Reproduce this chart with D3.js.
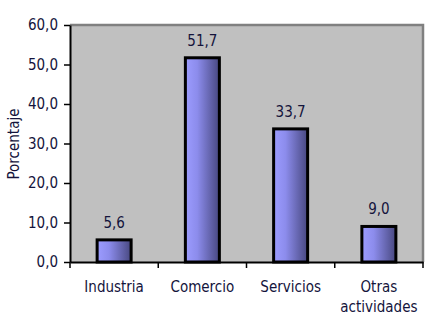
<!DOCTYPE html>
<html>
<head>
<meta charset="utf-8">
<script src="https://cdn.jsdelivr.net/npm/d3@7"></script>
<style>
  body { margin: 0; background: #fff; }
  svg text { font-family: "DejaVu Sans Condensed", "DejaVu Sans", Verdana, sans-serif; font-stretch: condensed; fill: #14143c; }
</style>
</head>
<body>
<svg id="chart" width="441" height="333"></svg>
<script>
// Sector shares (%)
const categories = ["Industria", "Comercio", "Servicios", "Otras actividades"];
const values = [5.6, 51.7, 33.7, 9.0];
const yTicks = [0, 10, 20, 30, 40, 50, 60];

const fmt = v => d3.format(".1f")(v).replace(".", ",");
const FONT = "'DejaVu Sans Condensed', 'DejaVu Sans', Verdana, sans-serif";
const FS = 15;

const svg = d3.select("#chart");
const m = { left: 70, top: 25, right: 423, bottom: 262 };

const x = d3.scaleBand().domain(categories).range([m.left, m.right]).paddingInner(0).paddingOuter(0);
const y = d3.scaleLinear().domain([0, 60]).range([m.bottom, m.top]);

// bar gradient: light violet-blue to dark
const defs = svg.append("defs");
const grad = defs.append("linearGradient").attr("id", "barGrad").attr("x1", "0%").attr("x2", "100%");
grad.append("stop").attr("offset", "0%").attr("stop-color", "#9c9cff");
grad.append("stop").attr("offset", "35%").attr("stop-color", "#8c8cec");
grad.append("stop").attr("offset", "100%").attr("stop-color", "#484880");

// plot area
svg.append("rect")
  .attr("x", m.left).attr("y", m.top)
  .attr("width", m.right - m.left).attr("height", m.bottom - m.top)
  .attr("fill", "#c0c0c0");
svg.append("path")
  .attr("d", `M${m.left},${m.top} H${m.right} V${m.bottom}`)
  .attr("fill", "none").attr("stroke", "#808080").attr("stroke-width", 2.5);

// bars
const barW = 34;
svg.append("g").selectAll("rect").data(categories).join("rect")
  .attr("x", d => x(d) + x.bandwidth() / 2 - barW / 2)
  .attr("y", (d, i) => y(values[i]))
  .attr("width", barW)
  .attr("height", (d, i) => y(0) - y(values[i]))
  .attr("fill", "url(#barGrad)")
  .attr("stroke", "#000").attr("stroke-width", 3);

// value labels
svg.append("g").selectAll("text").data(categories).join("text")
  .attr("x", d => x(d) + x.bandwidth() / 2)
  .attr("y", (d, i) => y(values[i]) - 12)
  .attr("text-anchor", "middle")
  .attr("font-size", FS)
  .text((d, i) => fmt(values[i]));

// y axis
const yAxis = svg.append("g").attr("transform", `translate(${m.left},0)`)
  .call(d3.axisLeft(y).tickValues(yTicks).tickFormat(fmt).tickSize(6).tickSizeOuter(0));
yAxis.select(".domain").attr("stroke", "#000").attr("stroke-width", 2);
yAxis.selectAll(".tick line").attr("stroke", "#000").attr("stroke-width", 1.5);
yAxis.selectAll(".tick text").attr("font-size", FS).attr("x", -12)
  .attr("font-family", FONT).attr("fill", "#14143c");

// x axis
const xAxis = svg.append("g").attr("transform", `translate(0,${m.bottom})`)
  .call(d3.axisBottom(x).tickSize(0).tickFormat(""));
xAxis.select(".domain").attr("stroke", "#000").attr("stroke-width", 2);
xAxis.selectAll(".tick").remove();
const bounds = categories.map(d => x(d)).concat([m.right]);
xAxis.selectAll("line.sep").data(bounds).join("line").attr("class", "sep")
  .attr("x1", d => d).attr("x2", d => d).attr("y1", 0).attr("y2", 6)
  .attr("stroke", "#000").attr("stroke-width", 1.5);

// category labels (wrapped on spaces for the multi-word one)
const catG = svg.append("g");
categories.forEach(c => {
  const words = c.split(" ");
  const t = catG.append("text")
    .attr("x", x(c) + x.bandwidth() / 2)
    .attr("y", 292)
    .attr("text-anchor", "middle")
    .attr("font-size", FS);
  words.forEach((w, i) => {
    t.append("tspan").attr("x", x(c) + x.bandwidth() / 2).attr("dy", i === 0 ? 0 : 20).text(w);
  });
});

// y title
svg.append("text")
  .attr("transform", "translate(19,144) rotate(-90)")
  .attr("text-anchor", "middle")
  .attr("font-size", FS)
  .text("Porcentaje");
</script>
</body>
</html>
